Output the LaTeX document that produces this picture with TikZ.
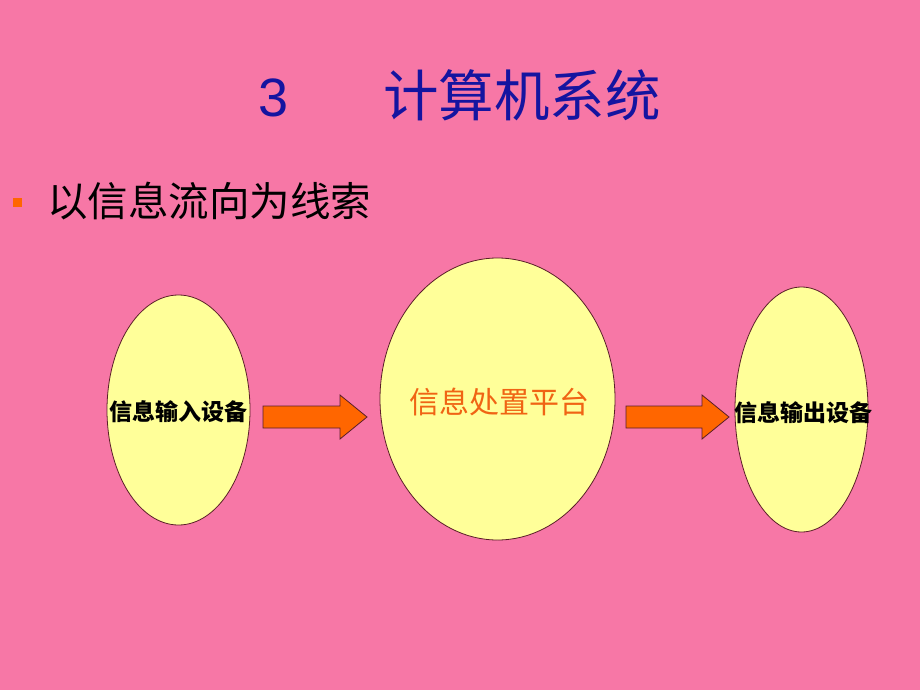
\documentclass[tikz,border=0pt]{standalone}
\usepackage{fontspec}
\setmainfont{Liberation Sans}
\newfontfamily\cjk{Noto Sans CJK SC}
\usetikzlibrary{shapes.geometric}
\definecolor{bg}{RGB}{247,119,166}
\definecolor{ellfill}{RGB}{255,255,153}
\definecolor{ellline}{RGB}{90,30,40}
\definecolor{orng}{RGB}{255,102,0}
\definecolor{ttl}{RGB}{20,20,160}
\definecolor{midtxt}{RGB}{240,100,20}
\tikzset{
  ell/.style={ellipse, draw=ellline, line width=0.8pt, fill=ellfill, inner sep=0pt},
  blockarrow/.style={draw=ellline, line width=0.8pt, fill=orng, line join=miter},
  smalltxt/.style={inner sep=0pt, font=\cjk\bfseries\fontsize{23}{23}\selectfont, text=black},
}
\begin{document}
\begin{tikzpicture}[x=1pt,y=-1pt]
\fill[bg] (0,0) rectangle (920,690);
\useasboundingbox (0,0) rectangle (920,690);
% title
\node[anchor=base west, inner sep=0pt, text=ttl, font=\fontsize{54}{54}\selectfont] (t3) at (258,117) {3};
\node[anchor=base west, inner sep=0pt, text=ttl, font=\cjk\fontsize{55.5}{55.5}\selectfont] (tt) at (383,117) {计算机系统};
% bullet
\fill[orng] (13,198) rectangle (22,207);
\node[anchor=base west, inner sep=0pt, text=black, font=\cjk\fontsize{40.5}{40.5}\selectfont] (b1) at (47,216) {以信息流向为线索};
% ellipses
\node[ell, minimum width=143, minimum height=230] (in) at (178.5,410) {};
\node[smalltxt] (int) at (178,412) {信息输入设备};
\node[ell, minimum width=235, minimum height=282] (mid) at (497.5,399) {};
\node[inner sep=0pt, text=midtxt, font=\cjk\fontsize{30}{30}\selectfont] (midt) at (499,402) {信息处置平台};
\node[ell, minimum width=133, minimum height=245] (out) at (801.5,409.5) {};
\node[smalltxt] (outt) at (803,413) {信息输出设备};
% arrows
\coordinate (a1) at (263,417);
\coordinate (a2) at (626,417);
\draw[blockarrow] (a1) ++(0,-11) -- ++(77,0) -- ++(0,-11) -- ++(27,22) -- ++(-27,22) -- ++(0,-11) -- ++(-77,0) -- cycle;
\draw[blockarrow] (a2) ++(0,-11) -- ++(76,0) -- ++(0,-11) -- ++(27,22) -- ++(-27,22) -- ++(0,-11) -- ++(-76,0) -- cycle;
\end{tikzpicture}
\end{document}
